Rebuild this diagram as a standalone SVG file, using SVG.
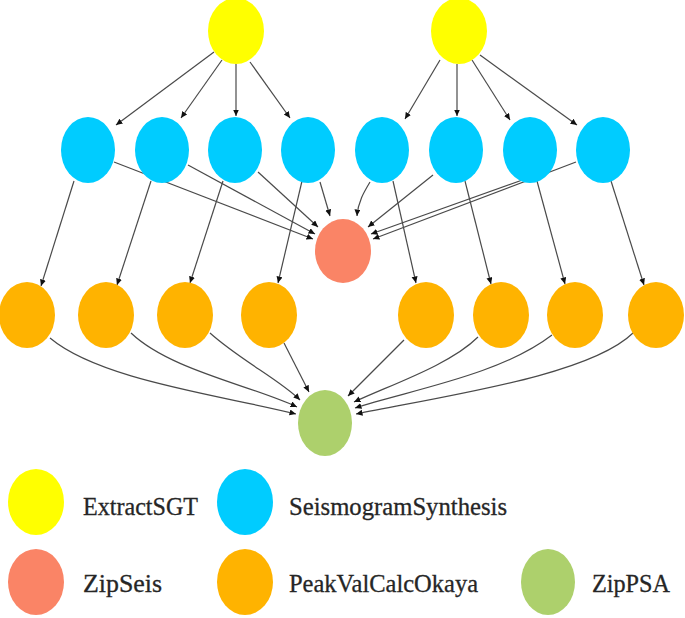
<svg xmlns="http://www.w3.org/2000/svg" width="685" height="618" viewBox="0 0 685 618">
<style>
.e{fill:none;stroke:#4a4a4a;stroke-width:1.2;marker-end:url(#ah)}
.y{fill:#FFFF00}.b{fill:#00CCFF}.r{fill:#FA8466}.o{fill:#FFB300}.g{fill:#ADD06C}
.t{font-family:"Liberation Serif","DejaVu Serif",serif;font-size:25px;fill:#262626;stroke:#262626;stroke-width:0.3}
</style>
<defs>
<marker id="ah" markerWidth="8" markerHeight="7" refX="6.5" refY="3" orient="auto" markerUnits="userSpaceOnUse">
<path d="M0,0 L6.5,3 L0,6 Z" fill="#111"/>
</marker>
</defs>
<rect width="685" height="618" fill="#fff"/>
<g id="connectors">
<path class="e" d="M214,52 L116,125"/>
<path class="e" d="M222,60 L181,118"/>
<path class="e" d="M236,64 L236,116"/>
<path class="e" d="M250,62 L290,118"/>
<path class="e" d="M440,60 L405,119"/>
<path class="e" d="M457,64 L457,116"/>
<path class="e" d="M472,60 L510,120"/>
<path class="e" d="M480,55 L577,125"/>
<path class="e" d="M114,162 L313,239"/>
<path class="e" d="M188,165 L315,234"/>
<path class="e" d="M258,172 L318,227"/>
<path class="e" d="M320,182 L330,216"/>
<path class="e" d="M370,182 C364,192 358,202 357,216"/>
<path class="e" d="M433,175 L368,227"/>
<path class="e" d="M528,178 L371,234"/>
<path class="e" d="M576,162 L373,239"/>
<path class="e" d="M74,181 L41,286"/>
<path class="e" d="M151,181 L117,285"/>
<path class="e" d="M223,181 L190,283"/>
<path class="e" d="M302,181 L278,283"/>
<path class="e" d="M393,181 L416,283"/>
<path class="e" d="M465,181 L491,284"/>
<path class="e" d="M537,181 L565,284"/>
<path class="e" d="M611,181 L644,285"/>
<path class="e" d="M50,338 C100,380 220,395 296,414"/>
<path class="e" d="M131,333 C170,370 250,385 297,407"/>
<path class="e" d="M210,333 C240,360 280,380 300,400"/>
<path class="e" d="M284,343 L309,392"/>
<path class="e" d="M404,340 L348,396"/>
<path class="e" d="M478,337 C450,365 390,385 354,402"/>
<path class="e" d="M552,335 C500,375 410,390 355,408"/>
<path class="e" d="M633,333 C590,375 450,395 356,414"/>
</g>
<g id="extract1"><ellipse class="y" cx="236" cy="31" rx="28" ry="33"/></g>
<g id="extract2"><ellipse class="y" cx="459" cy="31" rx="28" ry="33"/></g>
<g id="seis1"><ellipse class="b" cx="88" cy="150" rx="27" ry="33"/></g>
<g id="seis2"><ellipse class="b" cx="162" cy="150" rx="27" ry="33"/></g>
<g id="seis3"><ellipse class="b" cx="235" cy="150" rx="27" ry="33"/></g>
<g id="seis4"><ellipse class="b" cx="308" cy="150" rx="27" ry="33"/></g>
<g id="seis5"><ellipse class="b" cx="382" cy="150" rx="27" ry="33"/></g>
<g id="seis6"><ellipse class="b" cx="456" cy="150" rx="27" ry="33"/></g>
<g id="seis7"><ellipse class="b" cx="530" cy="150" rx="27" ry="33"/></g>
<g id="seis8"><ellipse class="b" cx="603" cy="150" rx="27" ry="33"/></g>
<g id="zipseis"><ellipse class="r" cx="343" cy="251" rx="28" ry="32"/></g>
<g id="peak1"><ellipse class="o" cx="27" cy="315" rx="28" ry="33"/></g>
<g id="peak2"><ellipse class="o" cx="106" cy="315" rx="28" ry="33"/></g>
<g id="peak3"><ellipse class="o" cx="185" cy="315" rx="28" ry="33"/></g>
<g id="peak4"><ellipse class="o" cx="269" cy="315" rx="28" ry="33"/></g>
<g id="peak5"><ellipse class="o" cx="426" cy="315" rx="28" ry="33"/></g>
<g id="peak6"><ellipse class="o" cx="501" cy="315" rx="28" ry="33"/></g>
<g id="peak7"><ellipse class="o" cx="575" cy="315" rx="28" ry="33"/></g>
<g id="peak8"><ellipse class="o" cx="656" cy="315" rx="28" ry="33"/></g>
<g id="zippsa"><ellipse class="g" cx="325" cy="423" rx="27" ry="33"/></g>
<g id="legend">
<ellipse class="y" cx="36" cy="502" rx="28" ry="33"/>
<text class="t" x="83" y="515" textLength="115" lengthAdjust="spacingAndGlyphs">ExtractSGT</text>
<ellipse class="b" cx="245" cy="502" rx="28" ry="33"/>
<text class="t" x="289" y="515" textLength="218" lengthAdjust="spacingAndGlyphs">SeismogramSynthesis</text>
<ellipse class="r" cx="36" cy="582" rx="28" ry="33"/>
<text class="t" x="83" y="592" textLength="79" lengthAdjust="spacingAndGlyphs">ZipSeis</text>
<ellipse class="o" cx="245" cy="582" rx="28" ry="33"/>
<text class="t" x="289" y="592" textLength="189" lengthAdjust="spacingAndGlyphs">PeakValCalcOkaya</text>
<ellipse class="g" cx="548" cy="582" rx="27" ry="33"/>
<text class="t" x="592" y="592" textLength="78" lengthAdjust="spacingAndGlyphs">ZipPSA</text>
</g>
</svg>
